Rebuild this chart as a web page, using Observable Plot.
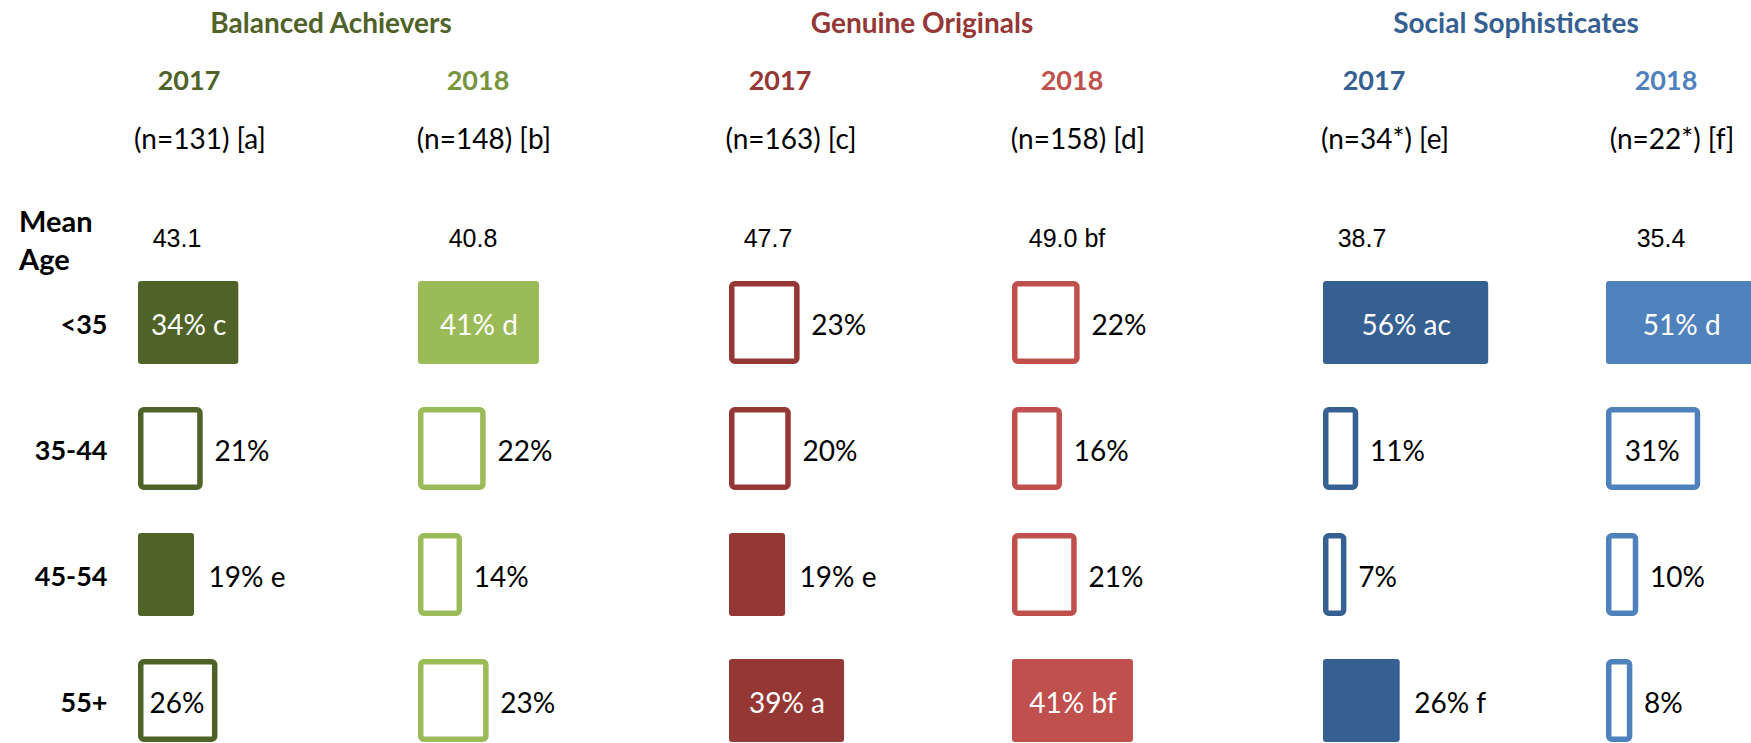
<!DOCTYPE html>
<html>
<head>
<meta charset="utf-8">
<script src="https://cdn.jsdelivr.net/npm/d3@7"></script>
<script src="https://cdn.jsdelivr.net/npm/@observablehq/plot@0.6"></script>
<style>
  html, body { margin: 0; padding: 0; background: #fff; }
  #chart { position: relative; width: 1751px; height: 743px; overflow: hidden; background: #fff;
           font-family: Lato, "Noto Sans", sans-serif; color: #000; }
  .lbl { position: absolute; line-height: 1; white-space: nowrap; transform: translate(-50%, -50%); }
  .lblL { position: absolute; line-height: 1; white-space: nowrap; transform: translate(0, -50%); }
  .panel { position: absolute; top: 0; }
  .panel svg { max-width: none !important; display: block; }
</style>
</head>
<body>
<div id="chart"></div>
<script>
// ---------------- DATA ----------------
const segments = ["Balanced Achievers", "Genuine Originals", "Social Sophisticates"];
const years = ["2017", "2018"];
const sampleLabels = ["(n=131) [a]", "(n=148) [b]", "(n=163) [c]", "(n=158) [d]", "(n=34*) [e]", "(n=22*) [f]"];
const meanAges = ["43.1", "40.8", "47.7", "49.0 bf", "38.7", "35.4"];
const ageBands = ["<35", "35-44", "45-54", "55+"];

const ba2017 = [34, 21, 19, 26];
const ba2017Sig = ["c", "", "e", ""];
const ba2018 = [41, 22, 14, 23];
const ba2018Sig = ["d", "", "", ""];
const go2017 = [23, 20, 19, 39];
const go2017Sig = ["", "", "e", "a"];
const go2018 = [22, 16, 21, 41];
const go2018Sig = ["", "", "", "bf"];
const ss2017 = [56, 11, 7, 26];
const ss2017Sig = ["ac", "", "", "f"];
const ss2018 = [51, 31, 10, 8];
const ss2018Sig = ["d", "", "", ""];

const panelValues = [ba2017, ba2018, go2017, go2018, ss2017, ss2018];
const panelSig = [ba2017Sig, ba2018Sig, go2017Sig, go2018Sig, ss2017Sig, ss2018Sig];

// ---------------- STYLE / LAYOUT ----------------
const segmentColors = ["#4F6228", "#953735", "#366092"];
const barColors = ["#4F6228", "#9BBB59", "#953735", "#C0504D", "#366092", "#4F81BD"];
const yearColors = ["#4F6228", "#77933C", "#953735", "#C0504D", "#366092", "#4F81BD"];
const panelLeft = [138, 418, 729, 1012, 1323, 1606];
const PX_PER_PCT = 2.95;
const W = 1751, H = 743;

const chart = document.getElementById("chart");
function addLabel(text, x, y, css, cls = "lbl") {
  const d = document.createElement("div");
  d.className = cls;
  d.textContent = text;
  d.style.left = x + "px";
  d.style.top = y + "px";
  Object.assign(d.style, css);
  chart.appendChild(d);
}

// Segment titles
segments.forEach((s, g) => {
  addLabel(s, panelLeft[2 * g] + 193, 22, {fontWeight: "bold", fontSize: "28px", color: segmentColors[g]});
});

// Per-panel headers
const yearOffset = [51, 60], nOffset = [62, 66], meanOffset = [39, 55];
for (let i = 0; i < 6; i++) {
  const yi = i % 2;
  addLabel(years[yi], panelLeft[i] + yearOffset[yi], 79, {fontWeight: "bold", fontSize: "27px", color: yearColors[i]});
  addLabel(sampleLabels[i], panelLeft[i] + nOffset[yi], 138, {fontSize: "28px"});
  addLabel(meanAges[i], panelLeft[i] + meanOffset[yi], 238, {fontSize: "25px", fontFamily: "'Liberation Sans', Arial, sans-serif"});
}
addLabel("Mean", 19, 220, {fontWeight: "bold", fontSize: "29px"}, "lblL");
addLabel("Age", 19, 258, {fontWeight: "bold", fontSize: "29px"}, "lblL");

// Panels
for (let i = 0; i < 6; i++) {
  const ml = i === 0 ? panelLeft[0] : 0;
  const span = i < 5 ? panelLeft[i + 1] - panelLeft[i] : W - panelLeft[i] + 20;
  const color = barColors[i];
  const rows = ageBands.map((age, j) => {
    const value = panelValues[i][j];
    const sig = panelSig[i][j];
    const filled = sig !== "";
    return {age, value, sig, filled,
            text: value + "%" + (sig ? " " + sig : ""),
            inside: filled ? value >= 30 : value >= 25};
  });
  const marks = [
    Plot.barX(rows.filter(r => r.filled), {x: "value", y: "age", fill: color, rx: 3}),
    Plot.barX(rows.filter(r => !r.filled), {x: "value", y: "age", fill: "white", stroke: color,
      strokeWidth: 5.5, insetTop: 2.75, insetBottom: 2.75, insetLeft: 2.75, insetRight: 0, rx: 3}),
    Plot.text(rows.filter(r => r.inside && r.filled), {x: r => r.value / 2, y: "age", text: "text",
      fill: "white", fontSize: 28, dy: 3}),
    Plot.text(rows.filter(r => r.inside && !r.filled), {x: r => r.value / 2, y: "age", text: "text",
      fill: "black", fontSize: 28, dy: 3}),
    Plot.text(rows.filter(r => !r.inside), {x: "value", y: "age", text: "text", textAnchor: "start",
      dx: 14, fill: "black", fontSize: 28, dy: 3})
  ];
  if (i === 0) {
    marks.push(Plot.axisY({tickSize: 0, tickPadding: 31, label: null, fontSize: 27, fontWeight: "bold", dy: 2}));
  }
  const svg = Plot.plot({
    width: ml + span,
    height: H,
    marginTop: 280,
    marginBottom: 1,
    marginLeft: ml,
    marginRight: 0,
    x: {domain: [0, 100], range: [ml, ml + 100 * PX_PER_PCT], axis: null},
    y: {domain: ageBands, paddingInner: 0.343, paddingOuter: 0, axis: null},
    style: {fontFamily: "Lato, 'Noto Sans', sans-serif", background: "transparent", overflow: "visible", color: "black"},
    marks
  });
  const wrap = document.createElement("div");
  wrap.className = "panel";
  wrap.style.left = (panelLeft[i] - ml) + "px";
  wrap.appendChild(svg);
  chart.appendChild(wrap);
}
</script>
</body>
</html>
